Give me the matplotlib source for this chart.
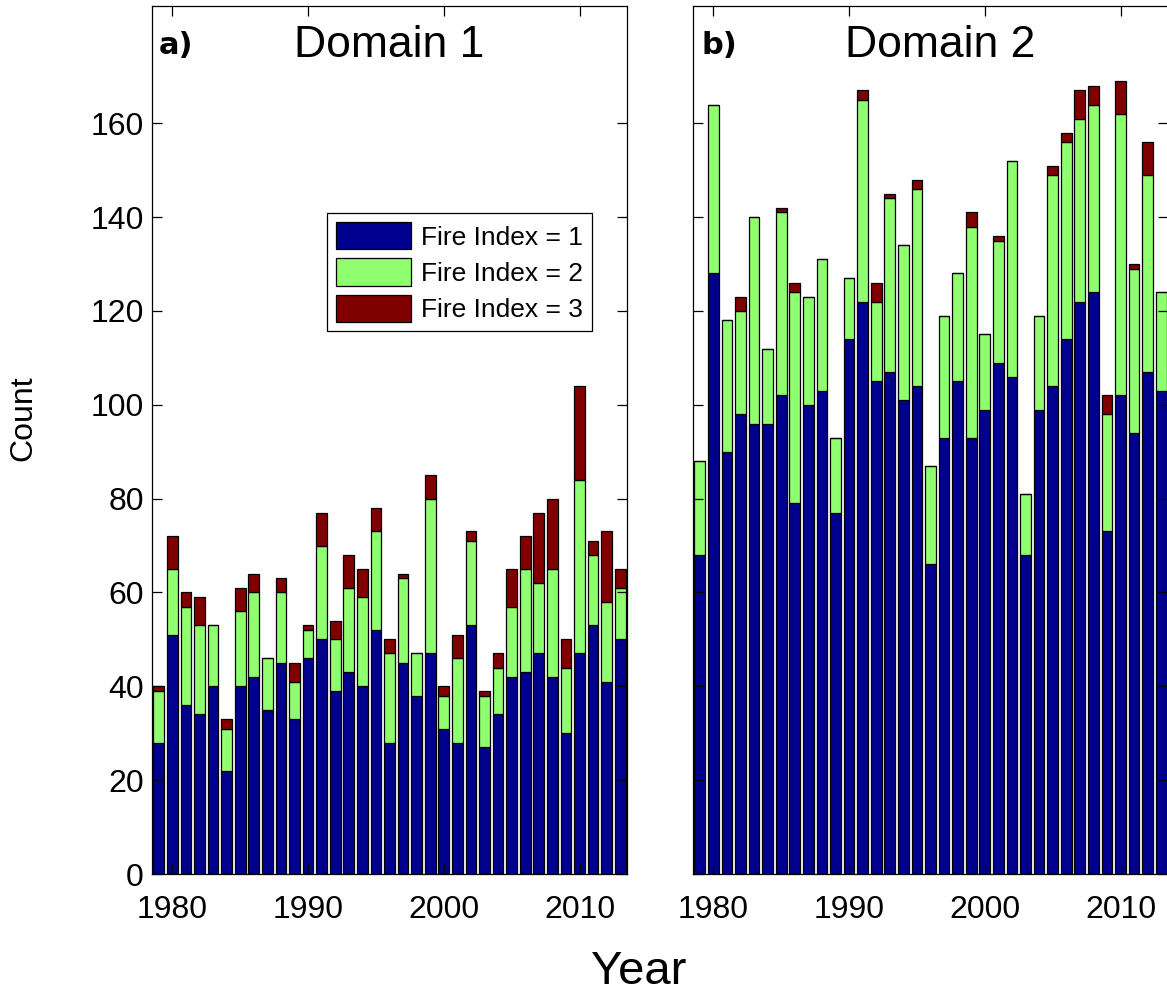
import numpy as np
import matplotlib
matplotlib.use("Agg")
import matplotlib.pyplot as plt

plt.rcParams['font.family'] = ['Liberation Sans', 'DejaVu Sans']

years = np.arange(1979, 2014)

# Domain 1 counts per fire index
d1_idx1 = [28, 51, 36, 34, 40, 22, 40, 42, 35, 45, 33, 46, 50, 39, 43, 40, 52, 28,
           45, 38, 47, 31, 28, 53, 27, 34, 42, 43, 47, 42, 30, 47, 53, 41, 50]
d1_idx2 = [11, 14, 21, 19, 13, 9, 16, 18, 11, 15, 8, 6, 20, 11, 18, 19, 21, 19,
           18, 9, 33, 7, 18, 18, 11, 10, 15, 22, 15, 23, 14, 37, 15, 17, 11]
d1_idx3 = [1, 7, 3, 6, 0, 2, 5, 4, 0, 3, 4, 1, 7, 4, 7, 6, 5, 3,
           1, 0, 5, 2, 5, 2, 1, 3, 8, 7, 15, 15, 6, 20, 3, 15, 4]

# Domain 2 counts per fire index
d2_idx1 = [68, 128, 90, 98, 96, 96, 102, 79, 100, 103, 77, 114, 122, 105, 107, 101, 104, 66,
           93, 105, 93, 99, 109, 106, 68, 99, 104, 114, 122, 124, 73, 102, 94, 107, 103]
d2_idx2 = [20, 36, 28, 22, 44, 16, 39, 45, 23, 28, 16, 13, 43, 17, 37, 33, 42, 21,
           26, 23, 45, 16, 26, 46, 13, 20, 45, 42, 39, 40, 25, 60, 35, 42, 21]
d2_idx3 = [0, 0, 0, 3, 0, 0, 1, 2, 0, 0, 0, 0, 2, 4, 1, 0, 2, 0,
           0, 0, 3, 0, 1, 0, 0, 0, 2, 2, 6, 4, 4, 7, 1, 7, 0]

labels = ['Fire Index = 1', 'Fire Index = 2', 'Fire Index = 3']
colors = ['#00008F', '#8FFF70', '#800000']

fig = plt.figure(figsize=(11.67, 9.92), dpi=100)
W, H = 1167.0, 992.0
ax1 = fig.add_axes([152 / W, (H - 874) / H, 475 / W, 868 / H])
ax2 = fig.add_axes([693 / W, (H - 874) / H, 475 / W, 868 / H])


def stacked(ax, series):
    bottom = np.zeros(len(years))
    bars = []
    for vals, col, lab in zip(series, colors, labels):
        vals = np.asarray(vals, dtype=float)
        b = ax.bar(years, vals, width=0.8, bottom=bottom, color=col,
                   edgecolor='black', linewidth=0.9, label=lab)
        bars.append(b)
        bottom += vals
    ax.set_xlim(1978.5, 2013.5)
    ax.set_ylim(0, 185)
    ax.set_xticks([1980, 1990, 2000, 2010])
    ax.set_yticks(np.arange(0, 161, 20))
    ax.tick_params(direction='in', top=True, right=True, length=7, width=0.9,
                   labelsize=23)
    ax.tick_params(axis='x', pad=15)
    ax.tick_params(axis='y', pad=6)
    for s in ax.spines.values():
        s.set_linewidth(0.9)
    return bars


bars = stacked(ax1, [d1_idx1, d1_idx2, d1_idx3])
stacked(ax2, [d2_idx1, d2_idx2, d2_idx3])
ax2.set_yticklabels([])

ax1.text(0.5, 0.941, 'Domain 1', transform=ax1.transAxes, ha='center',
         va='baseline', fontsize=32)
ax2.text(0.52, 0.941, 'Domain 2', transform=ax2.transAxes, ha='center',
         va='baseline', fontsize=32)
ax1.text(0.015, 0.945, 'a)', transform=ax1.transAxes, ha='left', va='baseline',
         fontsize=22, fontweight='bold', family='DejaVu Sans')
ax2.text(0.018, 0.945, 'b)', transform=ax2.transAxes, ha='left', va='baseline',
         fontsize=22, fontweight='bold', family='DejaVu Sans')

leg = ax1.legend(handles=bars, loc='upper left',
                 bbox_to_anchor=((327 - 152) / 475, (874 - 213) / 868),
                 fontsize=19, frameon=True, fancybox=False, framealpha=1,
                 edgecolor='black', handlelength=2.84, handleheight=1.21,
                 handletextpad=0.38, labelspacing=0.33, borderpad=0.35,
                 borderaxespad=0)
leg.get_frame().set_linewidth(0.9)

fig.text(23 / W, 1 - 418 / H, 'Count', rotation=90, ha='center', va='center',
         fontsize=23)
fig.text(639 / W, 1 - 984 / H, 'Year', ha='center', va='baseline', fontsize=34)

fig.savefig('out.png', dpi=100)
